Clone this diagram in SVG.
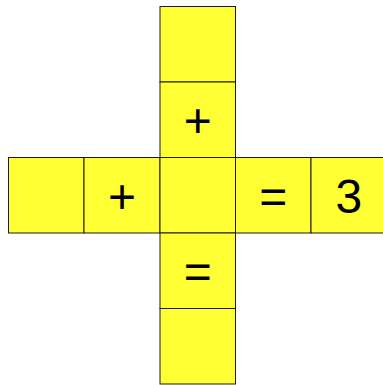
<svg xmlns="http://www.w3.org/2000/svg" width="383" height="385" viewBox="0 0 383 385">
<style>
.c{fill:#ffff33;stroke:#1a1a1a;stroke-width:1}
.t{font-family:"Liberation Sans",Arial,sans-serif;font-size:48px;text-anchor:middle;fill:#000}
</style>
<rect width="383" height="385" fill="#fff"/>
<g id="v1"><rect class="c" x="160" y="6.5" width="75.5" height="75.5"/></g>
<g id="v2"><rect class="c" x="160" y="82" width="75.5" height="75.5"/><text class="t" x="197.75" y="137">+</text></g>
<g id="h1"><rect class="c" x="8.5" y="157.5" width="75.5" height="75.5"/></g>
<g id="h2"><rect class="c" x="84" y="157.5" width="76" height="75.5"/><text class="t" x="122" y="212.5">+</text></g>
<g id="center"><rect class="c" x="160" y="157.5" width="75.5" height="75.5"/></g>
<g id="h4"><rect class="c" x="235.5" y="157.5" width="75.5" height="75.5"/><text class="t" x="273.25" y="212.5">=</text></g>
<g id="h5"><rect class="c" x="311" y="157.5" width="75.5" height="75.5"/><text class="t" x="348.75" y="212.5">3</text></g>
<g id="v4"><rect class="c" x="160" y="233" width="75.5" height="75.5"/><text class="t" x="197.75" y="288">=</text></g>
<g id="v5"><rect class="c" x="160" y="308.5" width="75.5" height="75.5"/></g>
<g id="connectors"></g>
</svg>
